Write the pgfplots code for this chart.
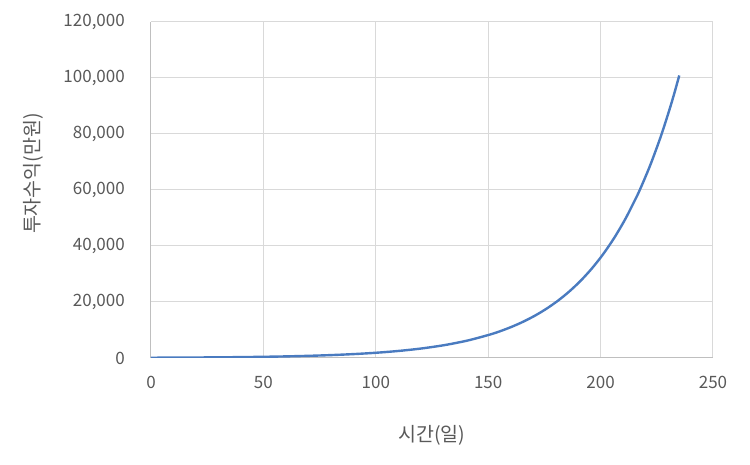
\documentclass[border=0pt]{standalone}
\usepackage{fontspec}
\setmainfont{Noto Sans CJK KR}
\usepackage{pgfplots}
\pgfplotsset{compat=1.18}
\definecolor{tickgray}{HTML}{595959}
\definecolor{gridgray}{HTML}{D9D9D9}
\definecolor{axisgray}{HTML}{BFBFBF}
\definecolor{lineblue}{HTML}{4A7BC0}
\begin{document}
\begin{tikzpicture}
\begin{axis}[
  at={(0,0)}, anchor=south west,
  scale only axis, width=562pt, height=336pt,
  xmin=0, xmax=250, ymin=0, ymax=120000,
  xtick={0,50,100,150,200,250}, ytick={0,20000,40000,60000,80000,100000,120000},
  xticklabels={0,50,100,150,200,250},
  yticklabels={0,{20,000},{40,000},{60,000},{80,000},{100,000},{120,000}},
  major tick length=0pt,
  grid=major,
  major grid style={gridgray, line width=1pt},
  axis x line*=bottom, axis y line*=left,
  axis line style={axisgray, line width=1pt, -},
  scaled y ticks=false,
  ticklabel style={font=\fontsize{17}{20}\selectfont, text=tickgray, inner sep=0pt},
  yticklabel style={anchor=east, xshift=-26pt},
  xticklabel style={anchor=north, yshift=-18pt},
  xlabel={시간(일)}, ylabel={투자수익(만원)},
  label style={font=\fontsize{19.5}{23}\selectfont, text=tickgray},
  xlabel style={at={(axis description cs:0.5,-0.229)}, anchor=center},
  ylabel style={at={(axis description cs:-0.21,0.549)}, anchor=center},
]
\addplot[lineblue, line width=2.4pt, smooth, no marks] coordinates {
(0,97.1) (1,100) (11,134.4) (21,180.6) (31,242.7) (41,326.2) (51,438.4)
(61,589.2) (71,791.8) (81,1064.1) (91,1430.1) (101,1921.9) (111,2582.9)
(121,3471.1) (131,4665.0) (141,6269.4) (151,8425.5) (156,9767.5)
(161,11323) (166,13126) (171,15217) (176,17641) (181,20451) (186,23708)
(191,27484) (196,31861) (201,36936) (206,42819) (211,49640) (216,57546)
(218,61050) (221,66712) (223,70775) (226,77337) (228,82047) (231,89656)
(233,95116) (235,100908)
};
\end{axis}
\path[use as bounding box] (-151pt,-107pt) rectangle (599pt,358pt);
\end{tikzpicture}
\end{document}
